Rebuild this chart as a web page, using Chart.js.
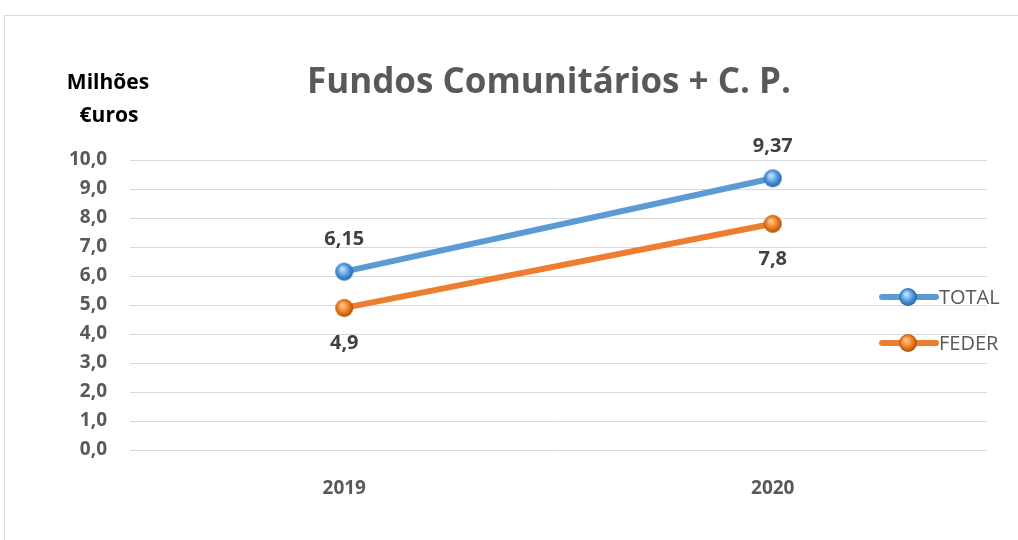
<!DOCTYPE html>
<html>
<head>
<meta charset="utf-8">
<script src="https://cdn.jsdelivr.net/npm/chart.js@4"></script>
<style>
  body { margin: 0; background: #fff; }
  #wrap { position: relative; width: 1018px; height: 540px; }
  #frame { position: absolute; left: 4px; top: 15px; width: 1030px; height: 540px; border: 1px solid #d9d9d9; box-sizing: border-box; }
  canvas { position: absolute; left: 0; top: 0; }
</style>
</head>
<body>
<div id="wrap">
  <div id="frame"></div>
  <canvas id="chart" width="1018" height="540"></canvas>
</div>
<script>
const years = ['2019', '2020'];
const totalValues = [6.15, 9.37];
const federValues = [4.9, 7.8];
const totalLabels = ['6,15', '9,37'];
const federLabels = ['4,9', '7,8'];

const blue = '#5B9BD5';
const orange = '#ED7D31';

function sphere(light, base, dark) {
    const c = document.createElement('canvas');
    c.width = 20; c.height = 20;
    const g = c.getContext('2d');
    const grad = g.createRadialGradient(8, 7, 1, 10, 10, 10);
    grad.addColorStop(0, light);
    grad.addColorStop(0.55, base);
    grad.addColorStop(1, dark);
    g.fillStyle = grad;
    g.beginPath();
    g.arc(10, 10, 9, 0, Math.PI * 2);
    g.fill();
    return c;
}
const blueDot = sphere('#bfe0ff', '#4a95dc', '#1f5a94');
const orangeDot = sphere('#ffc58a', '#ef7a1e', '#9a4406');

const labelPlugin = {
    id: 'labels',
    afterDatasetsDraw(chart) {
        const ctx = chart.ctx;
        ctx.save();
        ctx.font = 'bold 20px "Open Sans"';
        ctx.fillStyle = '#404040';
        ctx.textAlign = 'center';
        ctx.textBaseline = 'middle';
        const sets = [[0, totalLabels, -32], [1, federLabels, 35]];
        sets.forEach(([i, labels, dy]) => {
            chart.getDatasetMeta(i).data.forEach((pt, j) => {
                ctx.fillText(labels[j], pt.x, pt.y + dy);
            });
        });

        // title and axis caption
        ctx.fillStyle = '#595959';
        ctx.font = 'bold 35px "Open Sans"';
        ctx.fillText('Fundos Comunitários + C. P.', 549, 83);
        ctx.fillStyle = '#000';
        ctx.font = 'bold 21px "Open Sans"';
        ctx.fillText('Milhões', 108, 83);
        ctx.fillText('€uros', 109, 116);

        // legend
        const items = [['TOTAL', blue, blueDot, 297], ['FEDER', orange, orangeDot, 343]];
        items.forEach(([name, col, dot, y]) => {
            ctx.strokeStyle = col;
            ctx.lineWidth = 6;
            ctx.lineCap = 'round';
            ctx.beginPath();
            ctx.moveTo(882, y);
            ctx.lineTo(936, y);
            ctx.stroke();
            ctx.drawImage(dot, 898, y - 10);
            ctx.fillStyle = '#595959';
            ctx.font = '20px "Open Sans"';
            ctx.textAlign = 'left';
            ctx.fillText(name, 939, y + 1);
        });
        ctx.restore();
    }
};

new Chart(document.getElementById('chart'), {
    type: 'line',
    data: {
        labels: years,
        datasets: [
            { label: 'TOTAL', data: totalValues, borderColor: blue, borderWidth: 6, pointStyle: blueDot, pointRadius: 10 },
            { label: 'FEDER', data: federValues, borderColor: orange, borderWidth: 6, pointStyle: orangeDot, pointRadius: 10 }
        ]
    },
    options: {
        responsive: false,
        animation: false,
        layout: { padding: { top: 160, right: 31, left: 0, bottom: 0 } },
        plugins: { legend: { display: false }, title: { display: false }, tooltip: { enabled: false } },
        scales: {
            x: {
                offset: true,
                grid: { display: false },
                border: { display: false },
                ticks: { color: '#595959', font: { family: 'Open Sans', size: 19, weight: 'bold' }, padding: 19 },
                afterFit(s) { s.height = 90; }
            },
            y: {
                min: 0, max: 10,
                ticks: {
                    stepSize: 1, color: '#595959', padding: 23,
                    font: { family: 'Open Sans', size: 19, weight: 'bold' },
                    callback: v => v.toFixed(1).replace('.', ',')
                },
                grid: { color: '#d9d9d9', drawTicks: false },
                border: { display: false },
                afterFit(s) { s.width = 130; }
            }
        }
    },
    plugins: [labelPlugin]
});
</script>
</body>
</html>
